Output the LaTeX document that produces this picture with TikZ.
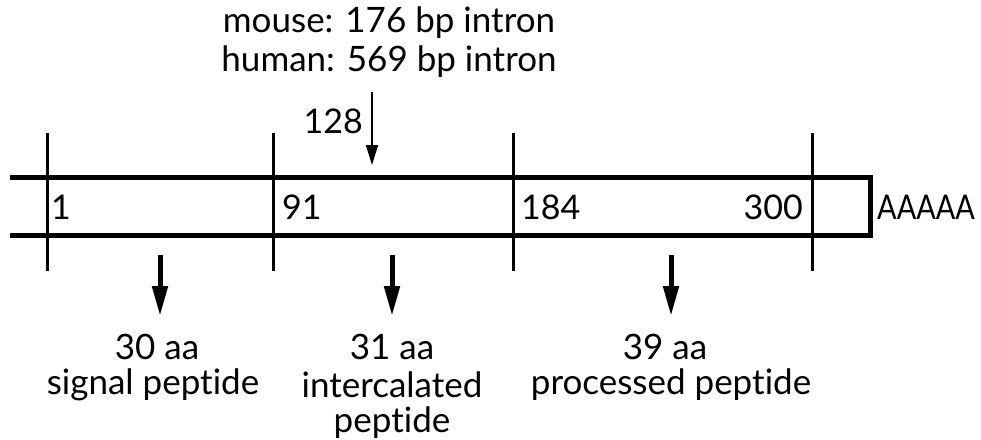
\documentclass[tikz,border=0pt]{standalone}
\usepackage{fontspec}
\setmainfont{Lato}[Ligatures={NoCommon,NoRequired,NoContextual}]
\usetikzlibrary{arrows.meta}
\begin{document}
\begin{tikzpicture}[x=1pt,y=-1pt,
  txt/.style={inner sep=0pt,font=\fontsize{35}{39}\selectfont},
  num/.style={inner sep=0pt,font=\fontsize{34}{39}\selectfont},
  low/.style={inner sep=0pt,font=\fontsize{35}{38}\selectfont,align=center},
  tick/.style={line width=3pt},
  band/.style={line width=5pt,line join=miter},
  bigarrow/.style={line width=5pt,-{Triangle[length=30pt,width=15pt]}},
  thinarrow/.style={line width=1.5pt,-{Triangle[length=20pt,width=12pt]}}]
\useasboundingbox (0,0) rectangle (981,439);
% band
\coordinate (tl) at (10,177);
\coordinate (tr) at (870,177);
\coordinate (br) at (870,235);
\coordinate (bl) at (10,235);
\draw[band] (tl) -- (tr) -- (br) -- (bl);
% ticks
\foreach \n/\x in {t1/47,t2/273,t3/513,t4/812}{
  \coordinate (\n a) at (\x,133);
  \coordinate (\n b) at (\x,271);
  \draw[tick] (\n a) -- (\n b);
}
% numbers in band
\node[num,anchor=west] (n1) at (51,207) {1};
\node[num,anchor=west] (n91) at (282,207) {91};
\node[num,anchor=west] (n184) at (521,207) {184};
\node[num,anchor=east] (n300) at (803,207) {300};
\node[num,anchor=west] (polyA) at (877,207) {\scalebox{0.85}[1]{AAAAA}};
% intron
\node[txt] (mouse) at (389,23) {mouse: 176 bp intron};
\node[txt] (human) at (389,62) {human: 569 bp intron};
\node[num,anchor=east] (n128) at (363,121) {128};
\coordinate (ia) at (372,92);
\coordinate (ib) at (372,165);
\draw[thinarrow] (ia) -- (ib);
% lower arrows
\foreach \n/\x in {a1/160,a2/392,a3/671}{
  \coordinate (\n s) at (\x,255);
  \coordinate (\n e) at (\x,316);
  \draw[bigarrow] (\n s) -- (\n e);
}
\node[low] (l1a) at (157,347) {30 aa};
\node[low] (l1b) at (153,385) {signal peptide};
\node[low] (l2a) at (392,347) {31 aa};
\node[low] (l2b) at (392,385) {intercalated};
\node[low] (l2c) at (392,423) {peptide};
\node[low] (l3a) at (665,347) {39 aa};
\node[low] (l3b) at (671,385) {processed peptide};
\end{tikzpicture}
\end{document}
